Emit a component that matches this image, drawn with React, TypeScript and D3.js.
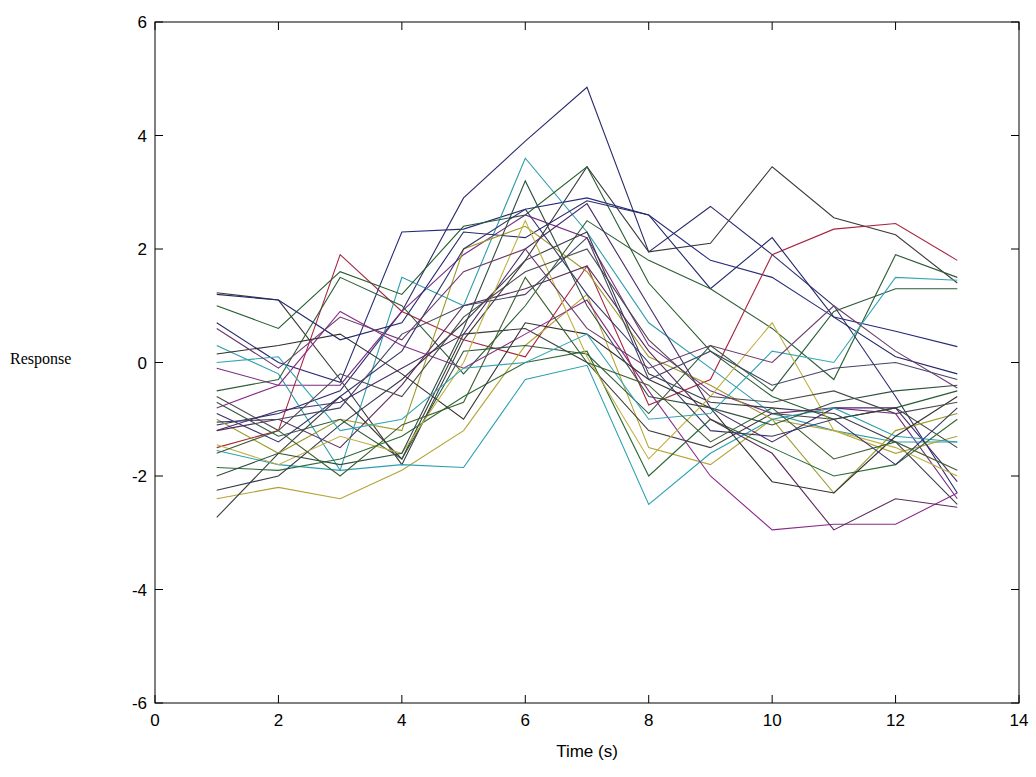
import * as d3 from "d3";

// time points (s)
const times = [1, 2, 3, 4, 5, 6, 7, 8, 9, 10, 11, 12, 13];

// one response trace per trial
const trials: number[][] = [
  [-1.1, -0.9, -0.5, 0.9, 2.9, 3.9, 4.85, 1.95, 2.75, 1.9, 1.0, -0.6, -2.3],
  [1.23, 1.1, -0.3, -1.8, 0.4, 1.8, 3.45, 1.95, 2.1, 3.45, 2.55, 2.25, 1.4],
  [0.7, 0.0, -0.35, 2.3, 2.35, 2.7, 2.9, 2.6, 1.8, 1.5, 0.8, 0.55, 0.28],
  [-0.1, -0.4, -0.4, 0.9, 1.9, 2.6, 2.2, 0.3, -0.5, -0.9, -0.8, -0.9, -2.4],
  [-1.5, -1.2, 1.9, 0.9, 0.4, 0.1, 1.7, -0.75, -0.3, 1.9, 2.35, 2.45, 1.8],
  [0.3, -0.2, -1.9, 1.5, 1.0, 3.6, 2.3, 0.7, -0.1, -0.9, -1.2, -1.4, -1.4],
  [1.0, 0.6, 1.6, 1.2, 2.4, 2.6, 3.45, 1.4, 0.2, -0.6, -1.0, -0.8, -0.5],
  [-2.4, -2.2, -2.4, -1.9, -1.2, 0.3, 1.2, -1.5, -1.8, -1.0, -1.2, -1.6, -1.3],
  [-2.73, -1.6, -0.6, -1.7, 0.5, 0.6, 0.0, -1.2, -1.5, -0.9, -1.0, -0.8, -1.5],
  [1.2, 1.1, 0.4, 0.7, 2.3, 2.2, 2.85, 2.6, 1.3, 2.2, 0.8, 0.1, -0.2],
  [-0.5, -0.3, 1.5, 1.0, -0.2, 1.0, 2.5, 1.8, 1.3, 0.6, -0.3, 1.9, 1.5],
  [-1.0, -1.6, -1.0, -1.2, 2.0, 2.4, 1.6, 0.1, -0.4, -1.0, -2.3, -1.2, -0.9],
  [-1.2, -0.85, -0.7, -0.1, 0.5, 2.0, 2.8, 1.0, -0.8, -1.4, -0.8, -0.8, -2.1],
  [-1.55, -1.8, -1.9, -1.8, -1.85, -0.3, -0.05, -2.5, -1.6, -1.0, -0.8, -1.3, -1.4],
  [-1.85, -1.9, -1.7, -1.3, -0.6, 0.0, 0.2, -2.0, -1.0, -1.5, -2.0, -1.8, -1.0],
  [-2.25, -2.0, -1.1, -0.3, 0.7, 1.8, 2.3, -0.2, -0.7, -0.8, -0.9, -1.4, -2.5],
  [-0.8, -0.4, 0.9, 0.3, -0.1, 0.5, 1.1, -0.5, -2.0, -2.95, -2.85, -2.85, -2.3],
  [-1.2, -1.0, -1.5, -0.4, 1.0, 1.3, 1.7, 0.2, -1.0, -1.6, -2.95, -2.4, -2.55],
  [0.15, 0.3, 0.5, -0.2, -1.0, 0.7, 0.5, -0.3, -0.8, -2.1, -2.3, -1.3, -0.6],
  [-0.7, -1.3, -1.0, -1.7, 0.2, 0.3, 0.15, -0.9, 0.3, -0.5, 0.9, 1.3, 1.3],
  [-1.45, -1.8, -1.3, -1.6, 0.0, 2.5, 0.1, -1.7, -0.6, 0.7, -1.2, -1.5, -2.0],
  [-0.9, -1.4, -0.6, 0.2, 2.0, 2.7, 1.2, 0.0, -1.2, -1.3, -1.0, -1.8, -0.8],
  [-2.0, -1.6, -1.8, -1.6, 0.6, 3.2, 1.0, -0.6, -0.8, -1.1, -0.7, -0.5, -0.4],
  [0.0, 0.1, -1.2, -1.0, -0.1, 0.0, 0.5, -1.0, -0.9, 0.2, 0.0, 1.5, 1.45],
  [-1.05, -1.0, -0.8, 0.5, 1.0, 1.2, 2.2, -0.3, 0.2, -0.4, -0.1, 0.0, -0.3],
  [-1.6, -1.2, -2.0, -1.1, -0.7, 1.5, 0.0, -0.4, -1.4, -0.8, -1.7, -1.4, -1.9],
  [0.6, -0.1, 0.8, 0.4, 1.6, 2.0, 0.6, -0.1, 0.3, 0.0, 1.0, 0.2, -0.45],
  [-0.6, -1.2, -0.2, -0.6, 0.8, 1.6, 2.0, 0.4, -0.6, -0.7, -0.5, -0.9, -0.7],
];

const xTicks = [0, 2, 4, 6, 8, 10, 12, 14];
const yTicks = [-6, -4, -2, 0, 2, 4, 6];

// muted matlab-ish colour order, as it looks after jpeg
const colors = [
  "#2b2b6e", "#3a3a3a", "#262a78", "#7a2a82", "#a8243e", "#2f9cab", "#245c2c",
  "#b3a232", "#3c3c3c", "#22276a", "#2e5e36", "#9a9a2a", "#4a2a6a", "#2aa0b0",
  "#2a6a34", "#3a3a4a", "#8a2a8a", "#5a2a5a", "#303030", "#2a5a3a", "#c0b040",
  "#34346a", "#2f4f3f", "#35a5b5", "#444466", "#3f5f2f", "#6a3a6a", "#4a4a4a",
];

const W = 1036;
const H = 777;
const m = { left: 155, right: 1019, top: 22, bottom: 703 };
const tickLen = 8;

export default function App() {
  const x = d3.scaleLinear().domain([0, 14]).range([m.left, m.right]);
  const y = d3.scaleLinear().domain([-6, 6]).range([m.bottom, m.top]);

  const line = d3
    .line<number>()
    .x((_, i) => x(times[i]))
    .y((d) => y(d));

  const font = "'Liberation Sans', Arial, sans-serif";

  return (
    <svg
      width={W}
      height={H}
      style={{ position: "absolute", left: 0, top: 0, background: "#fff" }}
    >
      {trials.map((tr, i) => (
        <path
          key={i}
          d={line(tr) || ""}
          fill="none"
          stroke={colors[i % colors.length]}
          strokeWidth={1.1}
        />
      ))}

      <rect
        x={m.left}
        y={m.top}
        width={m.right - m.left}
        height={m.bottom - m.top}
        fill="none"
        stroke="#000"
        strokeWidth={1}
      />

      {xTicks.map((t) => (
        <g key={"x" + t}>
          <line x1={x(t)} x2={x(t)} y1={m.bottom} y2={m.bottom - tickLen} stroke="#000" />
          <line x1={x(t)} x2={x(t)} y1={m.top} y2={m.top + tickLen} stroke="#000" />
          <text
            x={x(t)}
            y={m.bottom + 23}
            textAnchor="middle"
            fontFamily={font}
            fontSize={17}
            fill="#000"
          >
            {t}
          </text>
        </g>
      ))}

      {yTicks.map((t) => (
        <g key={"y" + t}>
          <line x1={m.left} x2={m.left + tickLen} y1={y(t)} y2={y(t)} stroke="#000" />
          <line x1={m.right} x2={m.right - tickLen} y1={y(t)} y2={y(t)} stroke="#000" />
          <text
            x={m.left - 8}
            y={y(t) + 6}
            textAnchor="end"
            fontFamily={font}
            fontSize={17}
            fill="#000"
          >
            {t}
          </text>
        </g>
      ))}

      <text
        x={(m.left + m.right) / 2}
        y={757}
        textAnchor="middle"
        fontFamily={font}
        fontSize={17}
        fill="#000"
      >
        Time (s)
      </text>
      <text x={10} y={364} fontFamily="'Liberation Serif', 'Times New Roman', serif" fontSize={16} fill="#000">
        Response
      </text>
    </svg>
  );
}
